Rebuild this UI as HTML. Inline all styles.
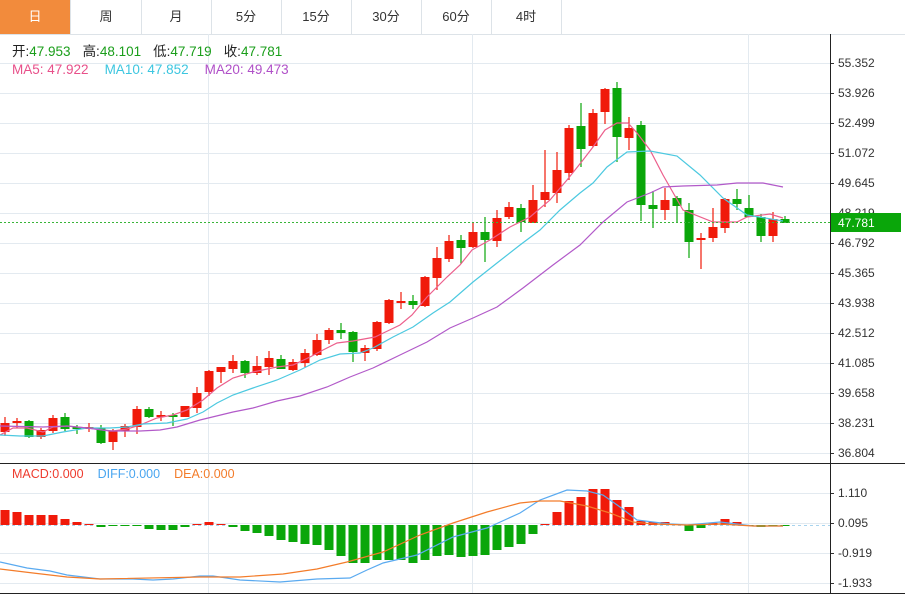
<!DOCTYPE html>
<html><head><meta charset="utf-8"><style>
body{margin:0;background:#fff;width:905px;height:594px;overflow:hidden;font-family:"Liberation Sans","Noto Sans CJK SC",sans-serif}
.tabs{position:absolute;left:0;top:0;width:905px;height:34px;border-bottom:1px solid #dde3e8;}
.tab{position:absolute;top:0;height:34px;width:70px;border-right:1px solid #dde3e8;text-align:center;line-height:34px;font-size:13px;color:#333}
.sel{background:#f28b3c;color:#fff}
</style></head><body>
<div class="tabs">
<div class="tab sel" style="left:0">日</div><div class="tab" style="left:71px">周</div><div class="tab" style="left:141px">月</div><div class="tab" style="left:211px">5分</div><div class="tab" style="left:281px">15分</div><div class="tab" style="left:351px">30分</div><div class="tab" style="left:421px">60分</div><div class="tab" style="left:491px">4时</div>
</div>
<svg id="s" width="905" height="594" style="position:absolute;left:0;top:0" font-family="Liberation Sans, Noto Sans CJK SC, sans-serif"></svg>
<script>
var s=document.getElementById('s'),h='';
function L(x1,y1,x2,y2,c,w,d){h+='<line x1="'+x1+'" y1="'+y1+'" x2="'+x2+'" y2="'+y2+'" stroke="'+c+'" stroke-width="'+(w||1)+'"'+(d?' stroke-dasharray="'+d+'"':'')+'/>';}
function T(x,y,t,c,sz){h+='<text x="'+x+'" y="'+y+'" fill="'+c+'" font-size="'+(sz||12)+'">'+t+'</text>';}
var g='#e3eaf0';
var labs=['55.352','53.926','52.499','51.072','49.645','48.219','46.792','45.365','43.938','42.512','41.085','39.658','38.231','36.804'];
for(var i=0;i<14;i++){var y=63+30*i;L(0,y+.5,830,y+.5,g);L(830,y+.5,834,y+.5,'#333');T(838,y+4,labs[i],'#333');}
[208,472,748].forEach(function(x){L(x+.5,34,x+.5,593,g);});
var ml=[[493,'1.110'],[523,'0.095'],[553,'-0.919'],[583,'-1.933']];
ml.forEach(function(m){L(0,m[0]+.5,830,m[0]+.5,g);L(830,m[0]+.5,834,m[0]+.5,'#333');T(838,m[0]+4,m[1],'#333');});
var C=[[423,432,417,436,1],[421,423,418,428,1],[421,437,420,438,0],[430,437,428,439,1],[418,431,415,433,1],[417,429,413,431,0],[427,429,425,434,0],[427,429,423,432,1],[428,443,425,444,0],[431,442,429,450,1],[426,431,424,437,1],[409,427,406,434,1],[409,417,407,418,0],[415,417,411,421,1],[415,417,413,426,0],[406,417,406,417,1],[393,408,387,413,1],[371,392,370,396,1],[367,372,367,383,1],[361,369,355,373,1],[361,373,360,378,0],[366,373,356,375,1],[358,367,351,375,1],[359,369,355,369,0],[362,370,359,371,1],[353,363,349,367,1],[340,355,334,356,1],[330,340,328,344,1],[330,333,323,339,0],[332,352,331,362,0],[348,353,345,361,1],[322,349,321,351,1],[300,323,299,324,1],[301,302,292,309,1],[301,305,295,309,0],[277,306,276,307,1],[258,278,247,290,1],[241,259,235,262,1],[240,248,235,264,0],[232,247,222,248,1],[232,240,217,262,0],[218,241,210,247,1],[207,217,202,219,1],[208,222,204,232,0],[200,223,185,223,1],[192,200,150,207,1],[170,193,152,203,1],[128,173,125,180,1],[126,149,103,167,0],[113,146,109,147,1],[89,112,88,124,1],[88,137,82,162,0],[128,138,117,150,1],[125,205,121,221,0],[205,209,191,228,0],[200,210,188,220,1],[198,206,196,222,0],[210,242,203,258,0],[238,240,233,269,1],[227,238,208,242,1],[199,228,198,233,1],[199,204,189,210,0],[208,217,195,217,0],[217,236,214,242,0],[219,236,212,242,1],[219,223,216,223,0]];
C.forEach(function(c,i){var x=5+12*i,col=c[4]?'#f01a0a':'#0aa60a';L(x,c[2],x,c[3],col,1.2);var bh=Math.max(c[1]-c[0],2);h+='<rect x="'+(x-4.5)+'" y="'+c[0]+'" width="9" height="'+bh+'" fill="'+col+'"/>';});
function P(pts,col){h+='<polyline fill="none" stroke="'+col+'" stroke-width="1.2" points="'+pts.map(function(p){return p.join(',')}).join(' ')+'"/>';}
P([[0,435],[13,428],[27,428],[43,432],[53,427],[67,426],[87,428],[103,430],[113,431],[127,429],[140,425],[157,418],[173,415],[187,410],[203,400],[217,388],[233,378],[253,372],[277,367],[293,365],[310,357],[323,350],[337,343],[353,341],[375,337],[400,325],[412,315],[427,297],[447,277],[460,265],[472,250],[490,240],[510,227],[530,217],[550,200],[567,180],[583,160],[593,147],[605,130],[617,123],[628,123],[637,133],[650,150],[663,175],[683,210],[713,222],[737,222],[747,217],[770,214],[783,218]],'#ec5f8c');
P([[0,435],[20,436],[43,436],[63,432],[87,428],[110,428],[127,427],[143,424],[167,423],[187,419],[203,412],[217,403],[233,395],[253,388],[277,380],[300,370],[320,360],[340,354],[360,353],[373,348],[393,337],[413,327],[433,313],[450,302],[473,282],[497,263],[520,245],[540,230],[560,210],[580,193],[593,183],[607,167],[627,152],[650,151],[677,156],[700,175],[723,198],[747,215],[783,221]],'#4cc9e0');
P([[0,426],[43,427],[67,426],[87,428],[110,431],[140,431],[160,430],[177,427],[200,420],[233,412],[253,408],[277,401],[300,396],[327,387],[350,377],[373,368],[400,355],[427,342],[450,328],[473,318],[497,307],[523,288],[553,265],[580,245],[603,222],[627,202],[650,193],[663,187],[683,186],[717,185],[737,183],[763,183],[783,187]],'#b25ac9');
L(0,222.5,830,222.5,'#39b539',1,'2,2');
h+='<rect x="831" y="213" width="70" height="19" fill="#0aa60a"/>';T(838,227,'47.781','#fff',12);
L(0,525.5,830,525.5,'#a8d4ee',1,'3,3');
var M=[510,512,515,515,515,519,522,524,527,526,526,526,529,530,530,527,524,522,524,527,531,533,536,540,542,544,545,550,556,563,563,560,560,560,563,560,556,555,557,556,555,550,547,544,534,524,512,501,497,489,489,500,507,521,522,522,525,531,528,523,519,522,526,527,526,526];
M.forEach(function(v,i){var x=5+12*i,z=525;if(Math.abs(v-z)<1)return;var col=v<z?'#f01a0a':'#0aa60a';h+='<rect x="'+(x-4.5)+'" y="'+Math.min(v,z)+'" width="9" height="'+Math.abs(v-z)+'" fill="'+col+'"/>';});
P([[0,562],[27,568],[50,571],[67,575],[100,579],[133,579],[153,580],[173,579],[200,576],[213,576],[240,580],[280,582],[317,579],[350,578],[367,570],[383,563],[417,555],[453,537],[487,528],[520,513],[540,500],[567,490],[587,491],[603,495],[620,507],[637,520],[653,522],[670,524],[687,525],[720,522],[737,524],[753,526],[783,526]],'#5aaaf0');
P([[0,569],[33,573],[67,577],[100,579],[200,577],[240,577],[283,574],[317,569],[347,562],[383,552],[420,535],[453,523],[487,512],[520,503],[540,501],[560,501],[587,506],[610,513],[633,522],[653,524],[687,525],[720,524],[753,526],[783,526]],'#f37c2a');
L(830.5,34,830.5,594,'#222');L(0,463.5,905,463.5,'#222');L(0,593.5,905,593.5,'#222');
h+='<text x="12" y="56" font-size="13.5"><tspan fill="#222">开:</tspan><tspan fill="#1a9e1a">47.953</tspan><tspan fill="#222" dx="12">高:</tspan><tspan fill="#1a9e1a">48.101</tspan><tspan fill="#222" dx="12">低:</tspan><tspan fill="#1a9e1a">47.719</tspan><tspan fill="#222" dx="12">收:</tspan><tspan fill="#1a9e1a">47.781</tspan></text>';
h+='<text x="12" y="74" font-size="13.5"><tspan fill="#e8508a">MA5: 47.922</tspan><tspan fill="#3cc6e0" dx="16">MA10: 47.852</tspan><tspan fill="#b050c8" dx="16">MA20: 49.473</tspan></text>';
h+='<text x="12" y="478" font-size="12.5"><tspan fill="#ee3b2e">MACD:0.000</tspan><tspan fill="#4aa6f0" dx="14">DIFF:0.000</tspan><tspan fill="#f37c2a" dx="14">DEA:0.000</tspan></text>';
s.innerHTML=h;
</script>
</body></html>
